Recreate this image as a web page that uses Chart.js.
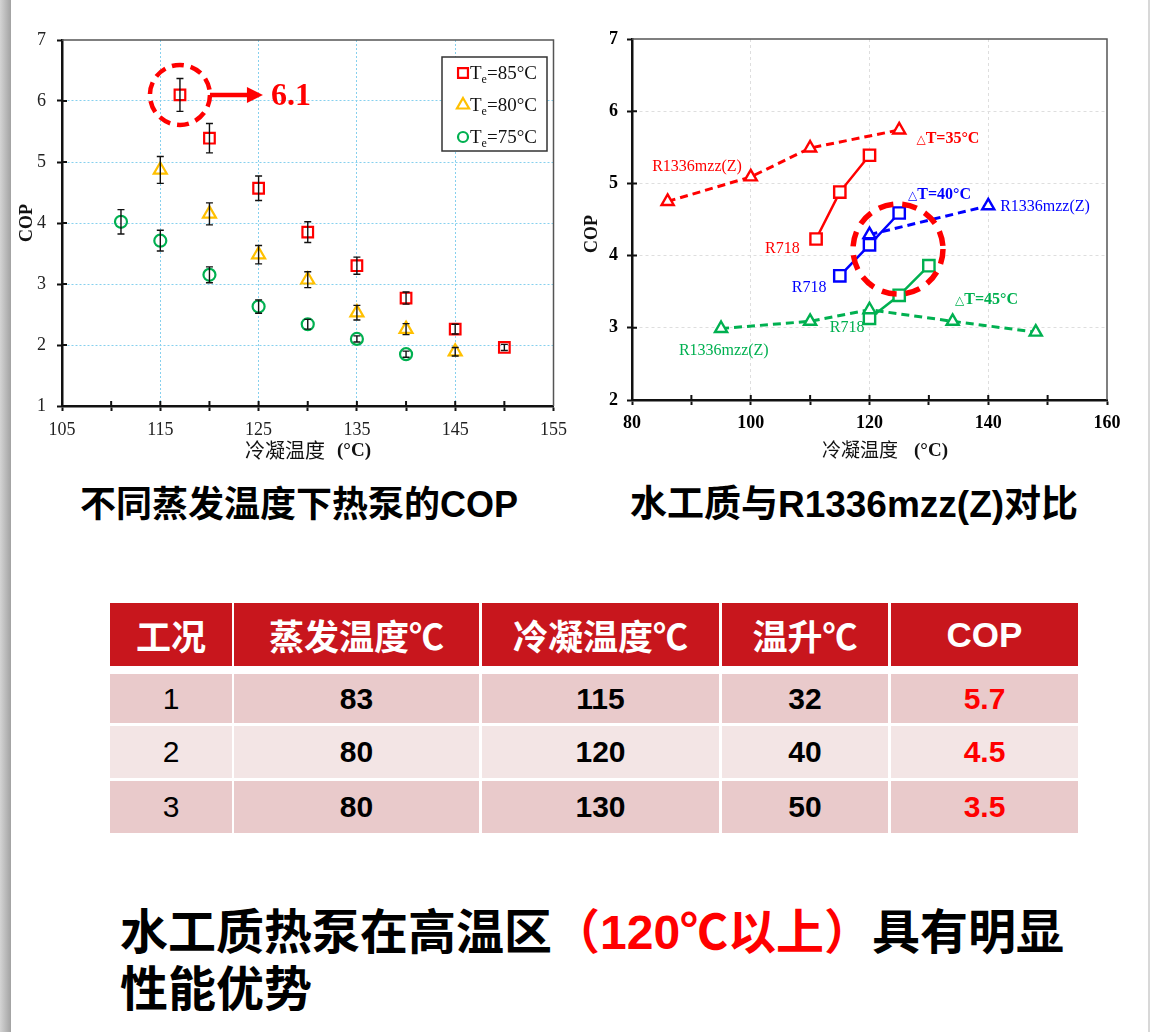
<!DOCTYPE html>
<html>
<head>
<meta charset="utf-8">
<script src="https://cdn.jsdelivr.net/npm/chart.js@4.4.0/dist/chart.umd.min.js"></script>
<style>
  html,body{margin:0;padding:0;background:#fff;}
  body{width:1150px;height:1032px;position:relative;overflow:hidden;font-family:"Liberation Sans","Noto Sans CJK SC",sans-serif;}
  #strip{position:absolute;left:0;top:0;width:11px;height:1032px;background:linear-gradient(to right,#d4d4d4,#a2a2a2);}
  #strip2{position:absolute;right:0;top:0;width:2px;height:1032px;background:#d8d8d8;}
  .cbox{position:absolute;top:0;width:575px;height:470px;}
  .ctitle{position:absolute;top:483px;font-weight:bold;line-height:44px;text-align:center;color:#000;white-space:nowrap;}
  .cell{position:absolute;display:flex;align-items:center;justify-content:center;white-space:nowrap;}
  .hdr{background:#C8161D;color:#fff;font-weight:bold;font-size:35px;}
  .body{color:#000;font-weight:bold;font-size:30px;}
  #concl{position:absolute;left:120px;top:904px;font-weight:bold;font-size:48px;line-height:57px;color:#000;white-space:nowrap;}
  #concl .red{color:#FF0000;}
</style>
</head>
<body>
<div id="strip"></div>
<div id="strip2"></div>
<div class="cbox" style="left:0"><canvas id="leftChart" width="575" height="470"></canvas></div>
<div class="cbox" style="left:575px"><canvas id="rightChart" width="575" height="470"></canvas></div>
<div class="ctitle" style="left:0;width:598px;font-size:36px;">不同蒸发温度下热泵的COP</div>
<div class="ctitle" style="left:578px;width:552px;font-size:37px;">水工质与R1336mzz(Z)对比</div>
<div id="table"></div>
<div id="concl">水工质热泵在高温区<span class="red">（120℃以上）</span>具有明显<br>性能优势</div>

<script>
// ---------------- DATA ----------------
// Left chart: COP vs condensing temperature at different evaporating temperatures
const te85X = [117, 120, 125, 130, 135, 140, 145, 150];
const te85Y = [6.10, 5.39, 4.57, 3.85, 3.30, 2.77, 2.26, 1.96];
const te85Err = [0.27, 0.24, 0.20, 0.17, 0.14, 0.10, 0.08, 0.05];
const te80X = [115, 120, 125, 130, 135, 140, 145];
const te80Y = [4.87, 4.15, 3.48, 3.07, 2.53, 2.26, 1.89];
const te80Err = [0.22, 0.18, 0.15, 0.13, 0.12, 0.09, 0.07];
const te75X = [111, 115, 120, 125, 130, 135, 140];
const te75Y = [4.02, 3.71, 3.15, 2.63, 2.34, 2.10, 1.85];
const te75Err = [0.20, 0.17, 0.13, 0.11, 0.08, 0.05, 0.05];
const leftLegend = ['=85°C', '=80°C', '=75°C'];
const leftHighlight = {x: 117, y: 6.1, text: '6.1'};

// Right chart: water (R718) vs R1336mzz(Z)
const red1336X = [86, 100, 110, 125];
const red1336Y = [4.75, 5.09, 5.49, 5.74];
const red718X = [111, 115, 120];
const red718Y = [4.23, 4.88, 5.39];
const blue1336X = [120, 140];
const blue1336Y = [4.29, 4.69];
const blue718X = [115, 120, 125];
const blue718Y = [3.72, 4.15, 4.59];
const green1336X = [95, 110, 120, 134, 148];
const green1336Y = [2.99, 3.09, 3.25, 3.09, 2.94];
const green718X = [120, 125, 130];
const green718Y = [3.13, 3.45, 3.86];

// Table
const tableHeaders = ['工况', '蒸发温度℃', '冷凝温度℃', '温升℃', 'COP'];
const caseNo = ['1', '2', '3'];
const evapTemp = ['83', '80', '80'];
const condTemp = ['115', '120', '130'];
const tempLift = ['32', '40', '50'];
const copVals = ['5.7', '4.5', '3.5'];

// ---------------- HELPERS ----------------
const pts = (xs, ys) => xs.map((x, i) => ({x, y: ys[i]}));
const RED = '#FF0000', ORANGE = '#FFC000', GREEN = '#00B050', BLUE = '#0000FF';
const SERIF = '"Liberation Serif","Noto Sans CJK SC"';

function markerPath(ctx, style, x, y, r) {
  ctx.beginPath();
  if (style === 'rect') {
    const s = r * Math.SQRT1_2;
    ctx.rect(x - s, y - s, 2 * s, 2 * s);
  } else if (style === 'triangle') {
    ctx.moveTo(x, y - r);
    ctx.lineTo(x + r * 0.866, y + r * 0.5);
    ctx.lineTo(x - r * 0.866, y + r * 0.5);
    ctx.closePath();
  } else {
    ctx.arc(x, y, r, 0, Math.PI * 2);
  }
}

function crossTicks(chart, len) {
  const ctx = chart.ctx, a = chart.chartArea;
  const xs = chart.scales.x, ys = chart.scales.y;
  ctx.save();
  ctx.strokeStyle = '#111';
  ctx.lineWidth = 2;
  ctx.beginPath();
  xs.ticks.forEach((t) => {
    const p = xs.getPixelForValue(t.value);
    if (p <= a.left + 1 || p >= a.right - 1) return;
    ctx.moveTo(p, a.bottom); ctx.lineTo(p, a.bottom - len);
  });
  ys.ticks.forEach((t) => {
    const p = ys.getPixelForValue(t.value);
    if (p <= a.top + 1 || p >= a.bottom - 1) return;
    ctx.moveTo(a.left, p); ctx.lineTo(a.left + len, p);
  });
  ctx.stroke();
  // top & right frame
  ctx.strokeStyle = '#555';
  ctx.lineWidth = 1.5;
  ctx.beginPath();
  ctx.moveTo(a.left, a.top); ctx.lineTo(a.right, a.top); ctx.lineTo(a.right, a.bottom);
  ctx.stroke();
  ctx.restore();
}

// ---------------- LEFT CHART ----------------
const leftSeries = [
  {label: 'Te=85°C', xs: te85X, ys: te85Y, err: te85Err, color: RED, style: 'rect', r: 7.5},
  {label: 'Te=80°C', xs: te80X, ys: te80Y, err: te80Err, color: ORANGE, style: 'triangle', r: 7.5},
  {label: 'Te=75°C', xs: te75X, ys: te75Y, err: te75Err, color: GREEN, style: 'circle', r: 6}
];

const leftDeco = {
  id: 'leftDeco',
  afterDatasetsDraw(chart) {
    const ctx = chart.ctx, xs = chart.scales.x, ys = chart.scales.y;
    ctx.save();
    ctx.strokeStyle = '#111';
    ctx.lineWidth = 1.4;
    leftSeries.forEach((s) => {
      s.xs.forEach((xv, i) => {
        const px = xs.getPixelForValue(xv);
        const top = ys.getPixelForValue(s.ys[i] + s.err[i]);
        const bot = ys.getPixelForValue(s.ys[i] - s.err[i]);
        ctx.beginPath();
        ctx.moveTo(px, top); ctx.lineTo(px, bot);
        ctx.moveTo(px - 3.5, top); ctx.lineTo(px + 3.5, top);
        ctx.moveTo(px - 3.5, bot); ctx.lineTo(px + 3.5, bot);
        ctx.stroke();
      });
    });
    ctx.restore();
  },
  afterDraw(chart) {
    const ctx = chart.ctx, a = chart.chartArea, xs = chart.scales.x, ys = chart.scales.y;
    crossTicks(chart, 5);
    // legend box
    ctx.save();
    ctx.fillStyle = '#fff';
    ctx.strokeStyle = '#333';
    ctx.lineWidth = 1.5;
    ctx.fillRect(442, 57, 105, 94);
    ctx.strokeRect(442, 57, 105, 94);
    leftSeries.forEach((s, i) => {
      const y = 73 + i * 32;
      ctx.strokeStyle = s.color;
      ctx.lineWidth = 2.2;
      markerPath(ctx, s.style, 463, y, s.style === 'circle' ? 5 : 7);
      ctx.stroke();
      ctx.fillStyle = '#111';
      ctx.textBaseline = 'alphabetic';
      ctx.textAlign = 'left';
      ctx.font = '19px ' + SERIF;
      ctx.fillText('T', 470, y + 6);
      const tw = ctx.measureText('T').width;
      ctx.font = '12px ' + SERIF;
      ctx.fillText('e', 470 + tw, y + 10);
      const ew = ctx.measureText('e').width;
      ctx.font = '19px ' + SERIF;
      ctx.fillText(leftLegend[i], 470 + tw + ew, y + 6);
    });
    // highlight circle + arrow + label
    const cx = xs.getPixelForValue(leftHighlight.x), cy = ys.getPixelForValue(leftHighlight.y);
    ctx.strokeStyle = RED;
    ctx.lineWidth = 4.5;
    ctx.setLineDash([12, 7]);
    ctx.beginPath();
    ctx.arc(cx, cy, 30, 0, Math.PI * 2);
    ctx.stroke();
    ctx.setLineDash([]);
    ctx.lineWidth = 4.5;
    ctx.beginPath();
    ctx.moveTo(cx + 30, cy); ctx.lineTo(cx + 70, cy);
    ctx.stroke();
    ctx.fillStyle = RED;
    ctx.beginPath();
    ctx.moveTo(cx + 67, cy - 8); ctx.lineTo(cx + 83, cy); ctx.lineTo(cx + 67, cy + 8);
    ctx.closePath();
    ctx.fill();
    ctx.font = 'bold 32px ' + SERIF;
    ctx.textBaseline = 'middle';
    ctx.textAlign = 'left';
    ctx.fillText(leftHighlight.text, cx + 91, cy + 2);
    // axis titles
    ctx.fillStyle = '#111';
    ctx.save();
    ctx.translate(27, (a.top + a.bottom) / 2);
    ctx.rotate(-Math.PI / 2);
    ctx.textAlign = 'center';
    ctx.font = 'bold 18px ' + SERIF;
    ctx.fillText('COP', 0, 0);
    ctx.restore();
    ctx.textAlign = 'left';
    ctx.textBaseline = 'middle';
    ctx.font = '20px "Noto Sans CJK SC"';
    ctx.fillText('冷凝温度', 245, 450);
    ctx.font = 'bold 19px ' + SERIF;
    ctx.fillText('(°C)', 337, 451);
    ctx.restore();
  }
};

new Chart(document.getElementById('leftChart'), {
  type: 'scatter',
  data: {
    datasets: leftSeries.map((s) => ({
      label: s.label,
      data: pts(s.xs, s.ys),
      showLine: false,
      pointStyle: s.style,
      pointRadius: s.r,
      pointBorderWidth: 2.2,
      pointBorderColor: s.color,
      pointBackgroundColor: 'rgba(255,255,255,0)'
    }))
  },
  options: {
    responsive: false,
    animation: false,
    events: [],
    layout: {padding: {top: 40, right: 15, left: 0, bottom: 0}},
    plugins: {legend: {display: false}, tooltip: {enabled: false}},
    scales: {
      x: {
        type: 'linear', min: 105, max: 155,
        afterFit(s) { s.height = 64; },
        ticks: {
          stepSize: 5, autoSkip: false, maxRotation: 0, padding: 8, color: '#222',
          font: {family: SERIF, size: 18},
          callback: (v) => (Math.round(v) % 10 === 5 ? String(Math.round(v)) : '')
        },
        grid: {
          color: (c) => (c.tick && Math.round(c.tick.value) % 10 === 5 && c.tick.value > 105 && c.tick.value < 155) ? '#86d0ee' : 'rgba(0,0,0,0)',
          lineWidth: 1, tickColor: '#111', tickLength: 5, tickWidth: 2, borderDash: [2, 2]
        },
        border: {color: '#111', width: 2.5, dash: [2, 2]}
      },
      y: {
        type: 'linear', min: 1, max: 7,
        afterFit(s) { s.width = 62; },
        ticks: {stepSize: 1, padding: 11, color: '#222', font: {family: SERIF, size: 18}},
        grid: {
          color: (c) => (c.tick && c.tick.value > 1 && c.tick.value < 7) ? '#86d0ee' : 'rgba(0,0,0,0)',
          lineWidth: 1, tickColor: '#111', tickLength: 5, tickWidth: 2, borderDash: [2, 2]
        },
        border: {color: '#111', width: 2.5, dash: [2, 2]}
      }
    }
  },
  plugins: [leftDeco]
});

// ---------------- RIGHT CHART ----------------
const rightSeries = [
  {xs: red1336X, ys: red1336Y, color: RED, style: 'triangle', dashed: true},
  {xs: red718X, ys: red718Y, color: RED, style: 'rect', dashed: false},
  {xs: blue1336X, ys: blue1336Y, color: BLUE, style: 'triangle', dashed: true},
  {xs: blue718X, ys: blue718Y, color: BLUE, style: 'rect', dashed: false},
  {xs: green1336X, ys: green1336Y, color: GREEN, style: 'triangle', dashed: true},
  {xs: green718X, ys: green718Y, color: GREEN, style: 'rect', dashed: false}
];

const rightLabels = [
  {t: 'R1336mzz(Z)', x: 83.4, y: 5.23, c: RED},
  {t: 'T=35°C', delta: true, x: 127.9, y: 5.62, c: RED},
  {t: 'R718', x: 102.4, y: 4.10, c: RED},
  {t: 'T=40°C', delta: true, x: 126.5, y: 4.84, c: BLUE},
  {t: 'R1336mzz(Z)', x: 142, y: 4.68, c: BLUE},
  {t: 'R718', x: 106.9, y: 3.55, c: BLUE},
  {t: 'T=45°C', delta: true, x: 134.4, y: 3.39, c: GREEN},
  {t: 'R718', x: 113.3, y: 3.0, c: GREEN},
  {t: 'R1336mzz(Z)', x: 87.9, y: 2.68, c: GREEN}
];
const rightHighlight = {x: 124.8, y: 4.09};

const rightDeco = {
  id: 'rightDeco',
  afterDraw(chart) {
    const ctx = chart.ctx, a = chart.chartArea, xs = chart.scales.x, ys = chart.scales.y;
    crossTicks(chart, 5);
    ctx.save();
    ctx.textBaseline = 'middle';
    ctx.textAlign = 'left';
    rightLabels.forEach((l) => {
      const px = xs.getPixelForValue(l.x), py = ys.getPixelForValue(l.y);
      ctx.fillStyle = l.c;
      if (l.delta) {
        ctx.font = '12px "DejaVu Sans"';
        ctx.fillText('△', px, py + 1);
        const dw = ctx.measureText('△').width;
        ctx.font = 'bold 16px ' + SERIF;
        ctx.fillText(l.t, px + dw, py);
      } else {
        ctx.font = '16px ' + SERIF;
        ctx.fillText(l.t, px, py);
      }
    });
    // highlight circle
    const cx = xs.getPixelForValue(rightHighlight.x), cy = ys.getPixelForValue(rightHighlight.y);
    ctx.strokeStyle = RED;
    ctx.lineWidth = 5.5;
    ctx.setLineDash([15, 9]);
    ctx.beginPath();
    ctx.arc(cx, cy, 45, 0, Math.PI * 2);
    ctx.stroke();
    ctx.setLineDash([]);
    // axis titles
    ctx.fillStyle = '#111';
    ctx.save();
    ctx.translate(17, 234);
    ctx.rotate(-Math.PI / 2);
    ctx.textAlign = 'center';
    ctx.font = 'bold 18px ' + SERIF;
    ctx.fillText('COP', 0, 0);
    ctx.restore();
    ctx.textAlign = 'left';
    ctx.font = '19px "Noto Sans CJK SC"';
    ctx.fillText('冷凝温度', 247, 450);
    ctx.font = 'bold 19px ' + SERIF;
    ctx.fillText('(°C)', 339, 451);
    ctx.restore();
  }
};

new Chart(document.getElementById('rightChart'), {
  type: 'scatter',
  data: {
    datasets: rightSeries.map((s) => ({
      data: pts(s.xs, s.ys),
      showLine: true,
      borderColor: s.color,
      borderWidth: s.dashed ? 3 : 2.5,
      borderDash: s.dashed ? [8, 5] : [],
      tension: 0,
      pointStyle: s.style,
      pointRadius: s.style === 'rect' ? 8 : 7,
      pointBorderWidth: 2.4,
      pointBorderColor: s.color,
      pointBackgroundColor: '#fff'
    }))
  },
  options: {
    responsive: false,
    animation: false,
    events: [],
    layout: {padding: {top: 39, right: 43, left: 0, bottom: 0}},
    plugins: {legend: {display: false}, tooltip: {enabled: false}},
    scales: {
      x: {
        type: 'linear', min: 80, max: 160,
        afterFit(s) { s.height = 70; },
        ticks: {
          stepSize: 10, autoSkip: false, maxRotation: 0, padding: 8, color: '#000',
          font: {family: SERIF, size: 18, weight: 'bold'},
          callback: (v) => (Math.round(v) % 20 === 0 ? String(Math.round(v)) : '')
        },
        grid: {
          color: (c) => (c.tick && Math.round(c.tick.value) % 20 === 0 && c.tick.value > 80 && c.tick.value < 160) ? '#dedede' : 'rgba(0,0,0,0)',
          lineWidth: 1, tickColor: '#111', tickLength: 5, tickWidth: 2, borderDash: [3, 3]
        },
        border: {color: '#111', width: 2.5, dash: [3, 3]}
      },
      y: {
        type: 'linear', min: 2, max: 7,
        afterFit(s) { s.width = 57; },
        ticks: {stepSize: 1, padding: 9, color: '#000', font: {family: SERIF, size: 18, weight: 'bold'}},
        grid: {
          color: (c) => (c.tick && c.tick.value > 2 && c.tick.value < 7) ? '#dedede' : 'rgba(0,0,0,0)',
          lineWidth: 1, tickColor: '#111', tickLength: 5, tickWidth: 2, borderDash: [3, 3]
        },
        border: {color: '#111', width: 2.5, dash: [3, 3]}
      }
    }
  },
  plugins: [rightDeco]
});

// ---------------- TABLE ----------------
(function buildTable() {
  const colEdges = [[110, 232], [234, 479], [482, 719], [722, 888], [891, 1078]];
  const rowEdges = [[674, 723], [726, 778], [781, 833]];
  const rowBg = ['#E9CACB', '#F3E5E5', '#E9CACB'];
  const host = document.getElementById('table');
  const add = (txt, cls, x0, x1, y0, y1, style) => {
    const d = document.createElement('div');
    d.className = 'cell ' + cls;
    d.style.left = x0 + 'px';
    d.style.width = (x1 - x0) + 'px';
    d.style.top = y0 + 'px';
    d.style.height = (y1 - y0) + 'px';
    Object.assign(d.style, style || {});
    d.textContent = txt;
    host.appendChild(d);
  };
  tableHeaders.forEach((h, c) => add(h, 'hdr', colEdges[c][0], colEdges[c][1], 603, 666));
  const cols = [caseNo, evapTemp, condTemp, tempLift, copVals];
  rowEdges.forEach((r, i) => {
    cols.forEach((col, c) => {
      const st = {background: rowBg[i]};
      if (c === 0) st.fontWeight = 'normal';
      if (c === 4) st.color = '#FF0000';
      add(col[i], 'body', colEdges[c][0], colEdges[c][1], r[0], r[1], st);
    });
  });
})();
</script>
</body>
</html>
